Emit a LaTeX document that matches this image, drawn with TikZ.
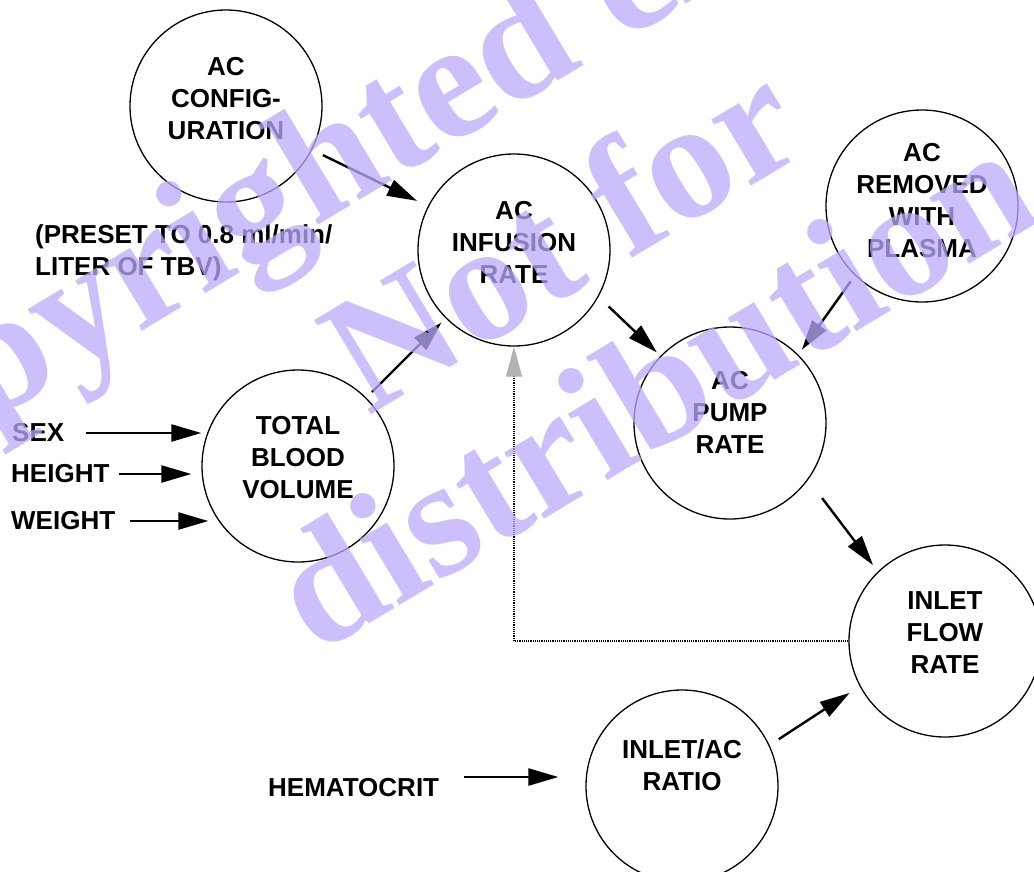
\documentclass[tikz,border=0pt]{standalone}
\usepackage{fontspec}
\setmainfont{Liberation Sans}
\newfontfamily\wmfont{Liberation Serif}
\usetikzlibrary{arrows.meta,positioning}
\definecolor{wmcol}{RGB}{188,170,250}

\begin{document}
\begin{tikzpicture}[x=1pt,y=-1pt,
		bubble/.style={circle,draw,line width=1.3pt,minimum size=192pt,inner sep=0pt},
		lbl/.style={align=center,font=\bfseries\fontsize{26}{32}\selectfont,inner sep=0pt},
		arr/.style={line width=2.4pt,-{Triangle[length=30pt,width=17pt]}},
		wm/.style={font=\wmfont\bfseries\fontsize{168}{168}\selectfont,text=wmcol,text opacity=0.75,rotate=31,anchor=base,inner sep=0pt}]
	\useasboundingbox (0,0) rectangle (1034,871);
	\clip (0,0) rectangle (1034,871);
	\node[bubble] (cfg) at (226,106) {};
	\node[bubble] (inf) at (514,250) {};
	\node[bubble] (rem) at (922,206) {};
	\node[bubble] (tbv) at (298,466) {};
	\node[bubble] (pump) at (730,423) {};
	\node[bubble] (ifr) at (945,641) {};
	\node[bubble] (iac) at (682,786) {};
	\node[lbl] (cfgtxt) at ([yshift=7pt]cfg.center) {AC\\CONFIG-\\URATION};
	\node[lbl] (inftxt) at ([yshift=8pt]inf.center) {AC\\INFUSION\\RATE};
	\node[lbl] (remtxt) at ([yshift=5pt]rem.center) {AC\\REMOVED\\WITH\\PLASMA};
	\node[lbl] (tbvtxt) at ([yshift=8pt]tbv.center) {TOTAL\\BLOOD\\VOLUME};
	\node[lbl] (pumptxt) at ([yshift=11pt]pump.center) {AC\\PUMP\\RATE};
	\node[lbl] (ifrtxt) at ([yshift=8pt]ifr.center) {INLET\\FLOW\\RATE};
	\node[lbl] (iactxt) at ([yshift=21pt]iac.center) {INLET/AC\\RATIO};
	\node[lbl,align=left,anchor=west] (preset) at (35,253) {(PRESET TO 0.8 ml/min/\\LITER OF TBV)};
	\node[lbl,anchor=west] (sex) at (12,433) {SEX};
	\node[lbl,anchor=west] (height) at (11,474) {HEIGHT};
	\node[lbl,anchor=west] (weight) at (11,521) {WEIGHT};
	\node[lbl,anchor=west] (hct) at (268,788) {HEMATOCRIT};
	\foreach \n/\s/\e in {sex/22pt/0pt,height/9pt/10pt,weight/15pt/-7pt}
		\draw[arr,shorten <=\s,shorten >=\e] (\n.east) -- (\n.east -| tbv.west);
	\draw[arr,shorten <=25pt,shorten >=27pt] ([yshift=11pt]hct.east) -- ([yshift=11pt]hct.east -| iac.west);
	\draw[arr,shorten <=12pt,shorten >=12pt] (cfg.-27) -- (inf.153);
	\draw[arr,shorten <=8pt,shorten >=6pt] (tbv.45) -- (inf.-135);
	\draw[arr,shorten <=14pt,shorten >=5pt] (inf.-29) -- (pump.136);
	\draw[arr,shorten <=7pt,shorten >=6pt] (rem.-134) -- (pump.45);
	\draw[arr,shorten <=23pt,shorten >=8pt] (pump.-36) -- (ifr.134);
	\draw[arr,shorten <=11pt,shorten >=12pt] (iac.25) -- (ifr.208);
	\draw[densely dotted,line width=1.2pt,-{Triangle[length=30pt,width=16pt,fill=gray!60,color=gray!60]}] (ifr.west) -| (inf.south);
	\node[wm] (wmA) at (472,133) {Copyrighted example};
	\node[wm] (wmB) at (590,283) {Not for};
	\node[wm] (wmC) at (681,437) {distribution};
\end{tikzpicture}
\end{document}
